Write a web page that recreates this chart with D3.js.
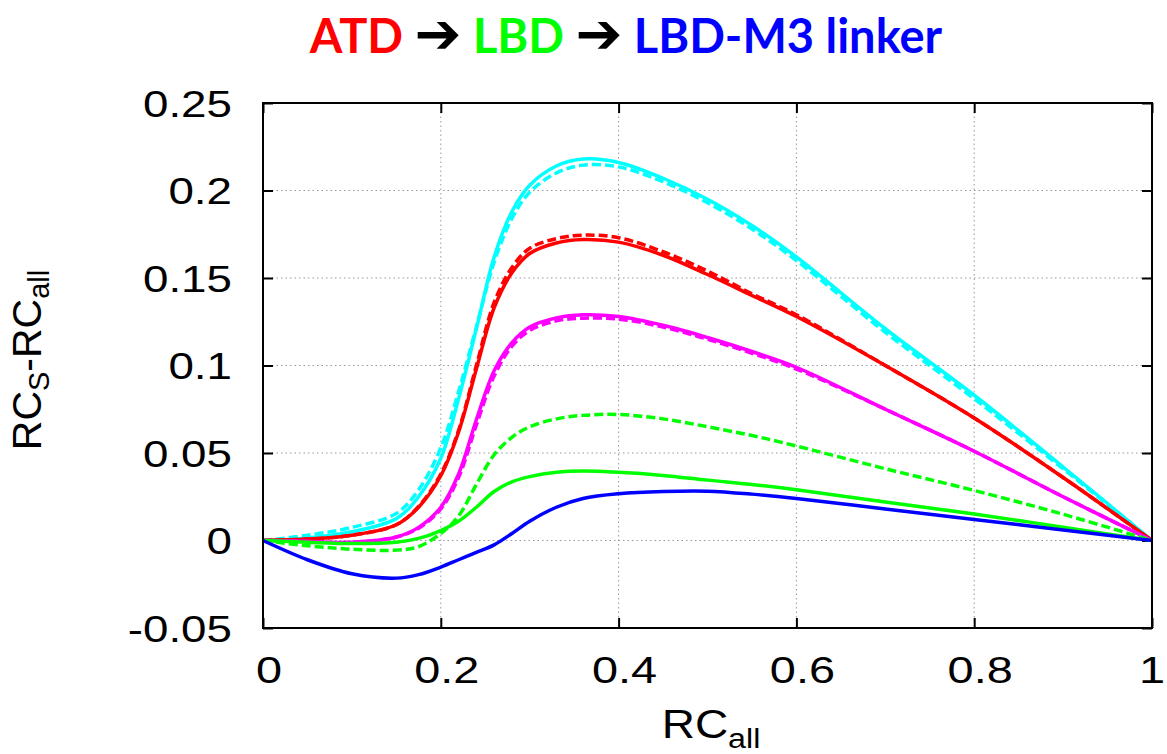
<!DOCTYPE html>
<html>
<head>
<meta charset="utf-8">
<script src="https://cdn.jsdelivr.net/npm/d3@7"></script>
<style>
  body { margin: 0; background: #fff; }
  text { font-family: "Liberation Sans", Arial, sans-serif; }
</style>
</head>
<body>
<div id="chart"></div>
<script>
var width = 1167, height = 754

// x samples shared by every curve
var rc = [0, 0.05, 0.1, 0.15, 0.175, 0.2, 0.22, 0.24, 0.26, 0.28, 0.3, 0.33, 0.36, 0.4, 0.45, 0.5, 0.55, 0.6, 0.7, 0.8, 0.9, 1]

var cyanSolid  = [0, 0.0015, 0.005, 0.0125, 0.025, 0.047, 0.081, 0.121, 0.162, 0.188, 0.203, 0.214, 0.218, 0.216, 0.207, 0.195, 0.18, 0.162, 0.121, 0.083, 0.042, 0]
var cyanDash   = [0, 0.003, 0.0075, 0.0155, 0.029, 0.053, 0.085, 0.122, 0.159, 0.184, 0.199, 0.21, 0.2145, 0.2135, 0.205, 0.193, 0.178, 0.16, 0.119, 0.081, 0.041, 0]
var redSolid   = [0, 0.0008, 0.003, 0.009, 0.019, 0.037, 0.062, 0.098, 0.133, 0.153, 0.164, 0.17, 0.172, 0.1705, 0.163, 0.152, 0.14, 0.128, 0.1, 0.07, 0.036, 0]
var redDash    = [0, 0.0008, 0.003, 0.009, 0.0195, 0.038, 0.063, 0.1, 0.136, 0.156, 0.167, 0.1725, 0.1745, 0.173, 0.165, 0.154, 0.141, 0.129, 0.1, 0.07, 0.036, 0]
var magSolid   = [0, -0.0005, -0.001, 0.002, 0.0075, 0.019, 0.038, 0.069, 0.097, 0.113, 0.122, 0.1272, 0.129, 0.128, 0.123, 0.116, 0.108, 0.099, 0.075, 0.051, 0.025, 0]
var magDash    = [0, -0.0005, -0.001, 0.002, 0.007, 0.018, 0.036, 0.066, 0.094, 0.111, 0.12, 0.1255, 0.127, 0.1265, 0.122, 0.115, 0.107, 0.098, 0.075, 0.051, 0.025, 0]
var greenSolid = [0, -0.001, -0.0017, -0.001, 0.0012, 0.0057, 0.011, 0.019, 0.028, 0.0335, 0.0365, 0.039, 0.0397, 0.039, 0.0372, 0.0345, 0.032, 0.029, 0.022, 0.0152, 0.0076, 0]
var greenDash  = [0, -0.003, -0.005, -0.0055, -0.0035, 0.004, 0.014, 0.032, 0.049, 0.059, 0.065, 0.0695, 0.0715, 0.072, 0.0695, 0.065, 0.06, 0.054, 0.041, 0.0286, 0.015, 0]
var blueSolid  = [0, -0.011, -0.019, -0.0215, -0.0195, -0.0152, -0.011, -0.0068, -0.0025, 0.004, 0.011, 0.019, 0.024, 0.0267, 0.028, 0.0282, 0.0265, 0.024, 0.018, 0.012, 0.006, 0]

var xTicks = [0, 0.2, 0.4, 0.6, 0.8, 1]
var xTickLabels = ["0", "0.2", "0.4", "0.6", "0.8", "1"]
var yTicks = [-0.05, 0, 0.05, 0.1, 0.15, 0.2, 0.25]
var yTickLabels = ["-0.05", "0", "0.05", "0.1", "0.15", "0.2", "0.25"]

var series = [
  { values: cyanSolid,  color: "#00ffff", dash: null },
  { values: cyanDash,   color: "#00ffff", dash: "9,4" },
  { values: redSolid,   color: "#ff0000", dash: null },
  { values: redDash,    color: "#ff0000", dash: "9,4" },
  { values: magSolid,   color: "#ff00ff", dash: null },
  { values: magDash,    color: "#ff00ff", dash: "9,4" },
  { values: greenDash,  color: "#00ff00", dash: "9,4" },
  { values: greenSolid, color: "#00ff00", dash: null },
  { values: blueSolid,  color: "#0000ff", dash: null }
]

var x = d3.scaleLinear().domain([0, 1]).range([263, 1152])
var y = d3.scaleLinear().domain([-0.05, 0.25]).range([628, 103])

var svg = d3.select("#chart").append("svg")
  .attr("width", width)
  .attr("height", height)

// title
var title = svg.append("text")
  .attr("x", 626)
  .attr("y", 53)
  .attr("text-anchor", "middle")
  .style("font-family", "Lato, 'Open Sans', sans-serif")
  .style("font-weight", "bold")
  .style("font-size", "47px")
title.append("tspan").attr("fill", "#ff0000").text("ATD ")
title.append("tspan").attr("fill", "#000").style("font-family", "'DejaVu Sans'").style("font-size", "56px").text("\u2794")
title.append("tspan").attr("fill", "#00ff00").text(" LBD ")
title.append("tspan").attr("fill", "#000").style("font-family", "'DejaVu Sans'").style("font-size", "56px").text("\u2794")
title.append("tspan").attr("fill", "#0000ff").text(" LBD-M3 linker")

// grid
svg.append("g").selectAll("line")
  .data(xTicks.slice(1, -1))
  .enter().append("line")
    .attr("x1", function(d) { return x(d) })
    .attr("x2", function(d) { return x(d) })
    .attr("y1", y(0.25))
    .attr("y2", y(-0.05))
    .attr("stroke", "#999")
    .attr("stroke-width", 1)
    .attr("stroke-dasharray", "1.5,3")

svg.append("g").selectAll("line")
  .data(yTicks.slice(1, -1))
  .enter().append("line")
    .attr("x1", x(0))
    .attr("x2", x(1))
    .attr("y1", function(d) { return y(d) })
    .attr("y2", function(d) { return y(d) })
    .attr("stroke", "#999")
    .attr("stroke-width", 1)
    .attr("stroke-dasharray", "1.5,3")

// inward ticks on all four sides
function ticks(axis, tr) {
  var g = svg.append("g").attr("transform", tr).call(axis)
  g.select(".domain").remove()
  g.selectAll(".tick line").attr("stroke", "#000").attr("stroke-width", 2)
  g.selectAll(".tick text").remove()
}
ticks(d3.axisBottom(x).tickValues(xTicks).tickSize(-10), "translate(0," + y(-0.05) + ")")
ticks(d3.axisTop(x).tickValues(xTicks).tickSize(-10), "translate(0," + y(0.25) + ")")
ticks(d3.axisLeft(y).tickValues(yTicks).tickSize(-10), "translate(" + x(0) + ",0)")
ticks(d3.axisRight(y).tickValues(yTicks).tickSize(-10), "translate(" + x(1) + ",0)")

// curves
var line = d3.line()
  .x(function(d) { return x(d[0]) })
  .y(function(d) { return y(d[1]) })
  .curve(d3.curveCatmullRom.alpha(0.5))

svg.append("g").selectAll("path")
  .data(series)
  .enter().append("path")
    .attr("d", function(s) { return line(rc.map(function(v, i) { return [v, s.values[i]] })) })
    .attr("fill", "none")
    .attr("stroke", function(s) { return s.color })
    .attr("stroke-width", 3.5)
    .attr("stroke-dasharray", function(s) { return s.dash })

// frame
svg.append("rect")
  .attr("x", x(0))
  .attr("y", y(0.25))
  .attr("width", x(1) - x(0))
  .attr("height", y(-0.05) - y(0.25))
  .attr("fill", "none")
  .attr("stroke", "#000")
  .attr("stroke-width", 2)

// tick labels (stretched like the source picture)
svg.append("g").selectAll("text")
  .data(xTicks)
  .enter().append("text")
    .attr("transform", function(d, i) {
      var dx = i == xTicks.length - 1 ? 0 : 6
      return "translate(" + (x(d) + dx) + ",683) scale(1.25,1)"
    })
    .attr("text-anchor", "middle")
    .style("font-size", "37.5px")
    .text(function(d, i) { return xTickLabels[i] })

svg.append("g").selectAll("text")
  .data(yTicks)
  .enter().append("text")
    .attr("transform", function(d) { return "translate(232," + (y(d) + 13.5) + ") scale(1.22,1)" })
    .attr("text-anchor", "end")
    .style("font-size", "37.5px")
    .text(function(d, i) { return yTickLabels[i] })

// axis titles
var xt = svg.append("text")
  .attr("transform", "translate(711,738) scale(1.15,1)")
  .attr("text-anchor", "middle")
  .style("font-size", "40px")
xt.append("tspan").text("RC")
xt.append("tspan").attr("dy", 10).style("font-size", "28px").text("all")

var yt = svg.append("text")
  .attr("transform", "translate(41,360) rotate(-90)")
  .attr("text-anchor", "middle")
  .style("font-size", "41px")
yt.append("tspan").text("RC")
yt.append("tspan").attr("dy", 8).style("font-size", "29px").text("S")
yt.append("tspan").attr("dy", -8).text("-RC")
yt.append("tspan").attr("dy", 8).style("font-size", "29px").text("all")
</script>
</body>
</html>
